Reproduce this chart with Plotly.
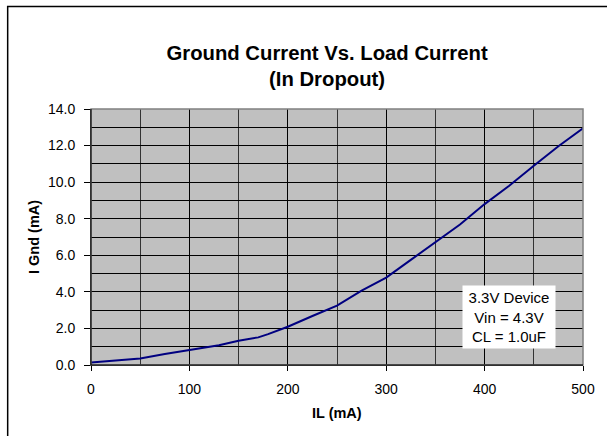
import plotly.graph_objects as go

load_ma = [0, 10, 28, 50, 75, 100, 130, 150, 170, 180, 200, 225, 250, 275, 300,
           325, 350, 375, 400, 425, 450, 475, 500]
gnd_ma = [0.13, 0.17, 0.24, 0.36, 0.60, 0.80, 1.08, 1.33, 1.51, 1.69, 2.09, 2.68,
          3.25, 4.07, 4.78, 5.75, 6.73, 7.68, 8.80, 9.80, 10.90, 11.96, 12.94]

x_ticks = [0, 100, 200, 300, 400, 500]
y_ticks = [0, 2, 4, 6, 8, 10, 12, 14]
y_tick_labels = [f"{v:.1f}" for v in y_ticks]

FONT = "Liberation Sans, Arial, sans-serif"

fig = go.Figure()
fig.add_trace(go.Scatter(x=load_ma, y=gnd_ma, mode="lines",
                         line=dict(color="#000080", width=2), showlegend=False))

fig.update_layout(
    width=607, height=436,
    margin=dict(l=91, r=20, t=109, b=71),
    paper_bgcolor="white", plot_bgcolor="#C0C0C0",
    font=dict(family=FONT, size=14, color="black"),
    title=dict(text="<b>Ground Current Vs. Load Current<br>(In Dropout)</b>",
               x=(329 - 91) / 496, xref="paper", xanchor="center",
               y=1 - 60 / 436, yanchor="top",
               font=dict(family=FONT, size=20.3, color="black")),
    xaxis=dict(range=[0, 500], tickvals=x_ticks, ticks="outside", ticklen=5,
               tickcolor="black", showgrid=True, gridcolor="black", gridwidth=1,
               minor=dict(dtick=50, showgrid=True, gridcolor="#333333", gridwidth=1),
               showline=True, linecolor="black", linewidth=1, zeroline=False,
               ticklabelstandoff=6, tickfont=dict(size=14)),
    yaxis=dict(range=[0, 14], tickvals=y_ticks, ticktext=y_tick_labels,
               ticks="outside", ticklen=6, tickcolor="black",
               showgrid=True, gridcolor="black", gridwidth=1,
               minor=dict(dtick=1, showgrid=True, gridcolor="black", gridwidth=1),
               showline=True, linecolor="black", linewidth=1, zeroline=False,
               ticklabelstandoff=6, tickfont=dict(size=14)),
)

# axis titles
fig.add_annotation(xref="paper", yref="paper", x=(339 - 91) / 496, y=(365 - 413) / 256,
                   xanchor="center", yanchor="middle", showarrow=False,
                   text="<b>IL (mA)</b>", font=dict(family=FONT, size=14.5, color="black"))
fig.add_annotation(xref="paper", yref="paper", x=(33 - 91) / 496, y=(365 - 236.5) / 256,
                   xanchor="center", yanchor="middle", showarrow=False, textangle=-90,
                   text="<b>I Gnd (mA)</b>", font=dict(family=FONT, size=14.5, color="black"))

# plot area border (gray)
fig.add_shape(type="rect", xref="paper", yref="paper", x0=0, x1=1, y0=0, y1=1,
              line=dict(color="#808080", width=1.5), layer="above")
fig.add_shape(type="line", xref="paper", yref="paper", x0=0, x1=0, y0=0, y1=1,
              line=dict(color="black", width=1), layer="above")
fig.add_shape(type="line", xref="paper", yref="paper", x0=0, x1=1, y0=0, y1=0,
              line=dict(color="black", width=1), layer="above")
# chart area border
fig.add_shape(type="rect", xref="paper", yref="paper",
              x0=(7 - 91) / 496, x1=(640 - 91) / 496,
              y0=(365 - 480) / 256, y1=(365 - 6.5) / 256,
              line=dict(color="black", width=1.5))

fig.add_annotation(xref="paper", yref="paper",
                   x=(512 - 91) / 496, y=(365 - 317) / 256,
                   xanchor="center", yanchor="middle",
                   text="3.3V Device<br>Vin = 4.3V<br>CL = 1.0uF",
                   showarrow=False, align="center", bgcolor="white",
                   font=dict(family=FONT, size=15, color="black"),
                   borderpad=2, width=88, height=58)

fig.write_html("out.html", config={"displayModeBar": False},
               post_script="document.body.style.margin='0';document.body.style.overflow='hidden';")
